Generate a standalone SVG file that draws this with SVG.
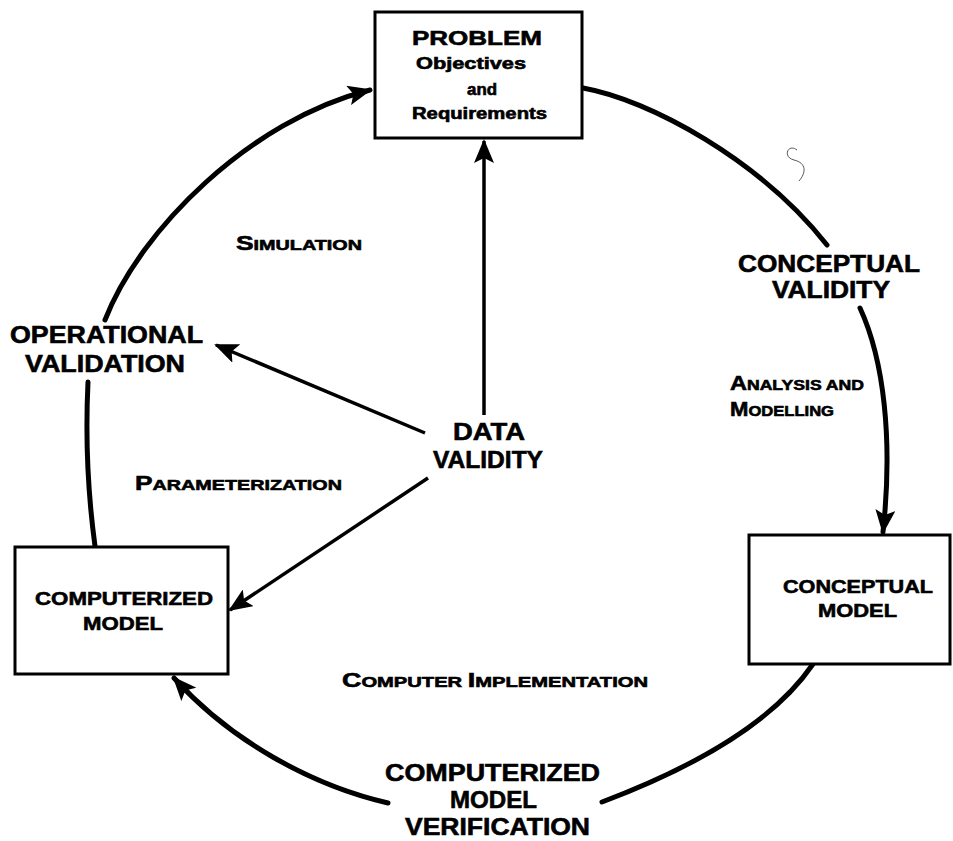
<svg xmlns="http://www.w3.org/2000/svg" width="953" height="841" viewBox="0 0 953 841">
<defs>
<style>
text{font-family:"Liberation Sans",Arial,Helvetica,sans-serif;font-weight:bold;fill:#000;stroke:#000;stroke-width:0.6}
.big{font-size:24px}
.box{fill:#fff;stroke:#000;stroke-width:3}
.arc{fill:none;stroke:#000;stroke-width:5;stroke-linecap:round}
.ln{fill:none;stroke:#000;stroke-width:3.5}
</style>
<marker id="ah" markerUnits="userSpaceOnUse" markerWidth="26" markerHeight="20" refX="22" refY="10" orient="auto">
<path d="M0,0 L24,10 L0,20 L5,10 z" fill="#000"/>
</marker>
</defs>
<rect width="953" height="841" fill="#fff"/>

<g id="connectors">
<path class="arc" d="M105,320 C140,230 250,120 370,90" marker-end="url(#ah)"/>
<path class="arc" d="M95,546 Q84,465 88,382"/>
<path class="arc" d="M583,88 C650,100 760,160 827,245"/>
<path class="arc" d="M860,308 C884,360 893,440 883,532" marker-end="url(#ah)"/>
<path class="arc" d="M813,664 C775,720 700,765 602,802"/>
<path class="arc" d="M388,803 C310,785 230,740 174,678" marker-end="url(#ah)"/>
<path class="ln" d="M484,415 L484,141" marker-end="url(#ah)"/>
<path class="ln" d="M425,433 L216,345" marker-end="url(#ah)"/>
<path class="ln" d="M428,478 L230,610" marker-end="url(#ah)"/>
</g>

<g id="problem">
<rect class="box" x="375" y="12" width="207" height="126"/>
<text x="412" y="45" font-size="21" textLength="130" lengthAdjust="spacingAndGlyphs">PROBLEM</text>
<text x="416" y="69" font-size="16" textLength="110" lengthAdjust="spacingAndGlyphs">Objectives</text>
<text x="467" y="95" font-size="16" textLength="30" lengthAdjust="spacingAndGlyphs">and</text>
<text x="412" y="119" font-size="16" textLength="135" lengthAdjust="spacingAndGlyphs">Requirements</text>
</g>

<g id="computerized-model">
<rect class="box" x="15" y="547" width="213" height="127"/>
<text x="35" y="605" font-size="19" textLength="178" lengthAdjust="spacingAndGlyphs">COMPUTERIZED</text>
<text x="83" y="630" font-size="19" textLength="80" lengthAdjust="spacingAndGlyphs">MODEL</text>
</g>

<g id="conceptual-model">
<rect class="box" x="749" y="535" width="201" height="129"/>
<text x="783" y="593" font-size="19" textLength="150" lengthAdjust="spacingAndGlyphs">CONCEPTUAL</text>
<text x="818" y="617" font-size="19" textLength="79" lengthAdjust="spacingAndGlyphs">MODEL</text>
</g>

<g id="data-validity">
<text class="big" x="453" y="440" textLength="72" lengthAdjust="spacingAndGlyphs">DATA</text>
<text class="big" x="433" y="468" textLength="110" lengthAdjust="spacingAndGlyphs">VALIDITY</text>
</g>

<g id="conceptual-validity">
<text class="big" x="738" y="272" textLength="182" lengthAdjust="spacingAndGlyphs">CONCEPTUAL</text>
<text class="big" x="772" y="298" textLength="118" lengthAdjust="spacingAndGlyphs">VALIDITY</text>
</g>

<g id="operational-validation">
<text class="big" x="10" y="343" textLength="193" lengthAdjust="spacingAndGlyphs">OPERATIONAL</text>
<text class="big" x="25" y="372" textLength="160" lengthAdjust="spacingAndGlyphs">VALIDATION</text>
</g>

<g id="verification">
<text class="big" x="385" y="781" textLength="215" lengthAdjust="spacingAndGlyphs">COMPUTERIZED</text>
<text class="big" x="450" y="808" textLength="87" lengthAdjust="spacingAndGlyphs">MODEL</text>
<text class="big" x="405" y="835" textLength="185" lengthAdjust="spacingAndGlyphs">VERIFICATION</text>
</g>

<g id="labels">
<text x="236" y="250" textLength="126" lengthAdjust="spacingAndGlyphs"><tspan font-size="20">S</tspan><tspan font-size="15">IMULATION</tspan></text>
<text x="135" y="490" textLength="207" lengthAdjust="spacingAndGlyphs"><tspan font-size="20">P</tspan><tspan font-size="15">ARAMETERIZATION</tspan></text>
<text x="730" y="390" textLength="134" lengthAdjust="spacingAndGlyphs"><tspan font-size="20">A</tspan><tspan font-size="15">NALYSIS AND</tspan></text>
<text x="730" y="416" textLength="104" lengthAdjust="spacingAndGlyphs"><tspan font-size="20">M</tspan><tspan font-size="15">ODELLING</tspan></text>
<text x="342" y="687" textLength="306" lengthAdjust="spacingAndGlyphs"><tspan font-size="20">C</tspan><tspan font-size="15">OMPUTER </tspan><tspan font-size="20">I</tspan><tspan font-size="15">MPLEMENTATION</tspan></text>
</g>

<path d="M797,150 C788,143 782,157 794,160 C807,163 806,173 799,181" fill="none" stroke="#555" stroke-width="1"/>
</svg>
